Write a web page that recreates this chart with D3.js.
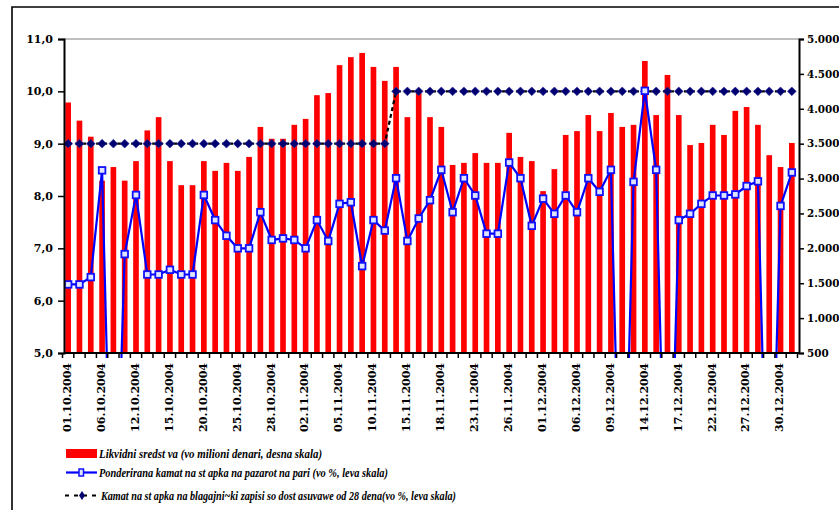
<!DOCTYPE html>
<html>
<head>
<meta charset="utf-8">
<script src="https://cdn.jsdelivr.net/npm/d3@7"></script>
<style>
  html, body { margin: 0; padding: 0; background: #fff; }
  svg { display: block; }
  .tick-label { font-family: "DejaVu Serif", serif; font-weight: bold; font-size: 11px; fill: #000; }
  .right-label { font-size: 10.4px; }
  .legend-text { font-family: "Liberation Serif", serif; font-weight: bold; font-style: italic; font-size: 13px; fill: #000; }
</style>
</head>
<body>
<div id="chart"></div>
<script>
// working days, Oct - Dec 2004
var dates = [
  "01.10.2004", "04.10.2004", "05.10.2004", "06.10.2004", "07.10.2004", "08.10.2004", "12.10.2004",
  "13.10.2004", "14.10.2004", "15.10.2004", "18.10.2004", "19.10.2004", "20.10.2004", "21.10.2004",
  "22.10.2004", "25.10.2004", "26.10.2004", "27.10.2004", "28.10.2004", "29.10.2004",
  "01.11.2004", "02.11.2004", "03.11.2004", "04.11.2004", "05.11.2004", "08.11.2004", "09.11.2004",
  "10.11.2004", "11.11.2004", "12.11.2004", "15.11.2004", "16.11.2004", "17.11.2004", "18.11.2004",
  "19.11.2004", "22.11.2004", "23.11.2004", "24.11.2004", "25.11.2004", "26.11.2004", "29.11.2004",
  "30.11.2004",
  "01.12.2004", "02.12.2004", "03.12.2004", "06.12.2004", "07.12.2004", "08.12.2004", "09.12.2004",
  "10.12.2004", "13.12.2004", "14.12.2004", "15.12.2004", "16.12.2004", "17.12.2004", "20.12.2004",
  "21.12.2004", "22.12.2004", "23.12.2004", "24.12.2004", "27.12.2004", "28.12.2004", "29.12.2004",
  "30.12.2004", "31.12.2004"
];

// Likvidni sredstva (mil. denari, right axis)
var liquidity = [
  4090, 3830, 3600, 2970, 3165, 2970, 3250, 3690, 3880, 3250,
  2905, 2905, 3250, 3110, 3225, 3110, 3310, 3740, 3570, 3570,
  3770, 3855, 4195, 4225, 4625, 4740, 4800, 4600, 4400, 4600,
  3880, 4225, 3880, 3740, 3195, 3225, 3365, 3225, 3225, 3655,
  3310, 3250, 2820, 3135, 3625, 3680, 3910, 3680, 3940, 3740,
  3770, 4685, 3910, 4485, 3910, 3480, 3510, 3770, 3625, 3970,
  4025, 3770, 3335, 3165, 3510
];

// Ponderirana kamatna stapka na pazarot na pari (%, left axis)
var moneyRate = [
  6.31, 6.31, 6.45, 8.49, 0, 6.89, 8.02, 6.50, 6.50, 6.59,
  6.50, 6.50, 8.02, 7.54, 7.24, 7.00, 7.00, 7.69, 7.16, 7.19,
  7.16, 7.00, 7.54, 7.14, 7.85, 7.88, 6.66, 7.54, 7.34, 8.34,
  7.14, 7.57, 7.92, 8.50, 7.69, 8.34, 8.01, 7.28, 7.28, 8.64,
  8.34, 7.43, 7.95, 7.66, 8.01, 7.69, 8.34, 8.08, 8.50, 0,
  8.27, 10.01, 8.50, 0, 7.54, 7.66, 7.85, 8.01, 8.01, 8.03,
  8.19, 8.28, 0, 7.81, 8.45
];

// Kamatna stapka na blagajnicki zapisi, 28 dena (%, left axis)
var billRate = [
  9.0, 9.0, 9.0, 9.0, 9.0, 9.0, 9.0, 9.0, 9.0, 9.0,
  9.0, 9.0, 9.0, 9.0, 9.0, 9.0, 9.0, 9.0, 9.0, 9.0,
  9.0, 9.0, 9.0, 9.0, 9.0, 9.0, 9.0, 9.0, 9.0, 10.0,
  10.0, 10.0, 10.0, 10.0, 10.0, 10.0, 10.0, 10.0, 10.0, 10.0,
  10.0, 10.0, 10.0, 10.0, 10.0, 10.0, 10.0, 10.0, 10.0, 10.0,
  10.0, 10.0, 10.0, 10.0, 10.0, 10.0, 10.0, 10.0, 10.0, 10.0,
  10.0, 10.0, 10.0, 10.0, 10.0
];

var leftTicks = [5, 6, 7, 8, 9, 10, 11];
var rightTicks = [500, 1000, 1500, 2000, 2500, 3000, 3500, 4000, 4500, 5000];

var legendLabels = [
  "Likvidni sredst va (vo milioni denari, desna skala)",
  "Ponderirana kamat na st apka na pazarot  na pari (vo %, leva skala)",
  "Kamat na st apka na blagajni~ki zapisi so dost asuvawe od 28 dena(vo %, leva skala)"
];

var width = 839, height = 510;
var plotLeft = 64, plotRight = 799, plotTop = 39, plotBottom = 353;

var svg = d3.select("#chart")
            .append("svg")
              .attr("width", width)
              .attr("height", height);

// outer frame (runs off the right and bottom edge)
svg.append("path")
   .attr("d", "M12," + height + "V7H" + width)
   .attr("fill", "none")
   .attr("stroke", "#000")
   .attr("stroke-width", 1.6);

var x = d3.scaleBand()
          .domain(dates)
          .range([plotLeft - 1.5, plotRight - 1.5])
          .paddingInner(0.5)
          .paddingOuter(0.25);

var step = x.step();

var yLeft = d3.scaleLinear().domain([5, 11]).range([plotBottom, plotTop]);
var yRight = d3.scaleLinear().domain([500, 5000]).range([plotBottom, plotTop]);

// plot top border
svg.append("line")
   .attr("x1", plotLeft).attr("x2", plotRight)
   .attr("y1", plotTop).attr("y2", plotTop)
   .attr("stroke", "#808080")
   .attr("stroke-width", 1.2);

// bars
svg.selectAll(".bar")
   .data(liquidity)
   .enter()
   .append("rect")
     .attr("class", "bar")
     .attr("x", function(d, i) { return x(dates[i]); })
     .attr("width", x.bandwidth())
     .attr("y", function(d) { return yRight(d); })
     .attr("height", function(d) { return plotBottom - yRight(d); })
     .attr("fill", "#ff0000");

var cx = function(i) { return x(dates[i]) + x.bandwidth() / 2; };

svg.append("clipPath")
   .attr("id", "plot-clip")
   .append("rect")
     .attr("x", plotLeft)
     .attr("y", plotTop - 6)
     .attr("width", plotRight - plotLeft)
     .attr("height", plotBottom - plotTop + 11);

var lines = svg.append("g").attr("clip-path", "url(#plot-clip)");

// black dashed line with diamonds
var billLine = d3.line()
                 .x(function(d, i) { return cx(i); })
                 .y(function(d) { return yLeft(d); });

lines.append("path")
     .attr("d", billLine(billRate))
     .attr("fill", "none")
     .attr("stroke", "#000")
     .attr("stroke-width", 2.2)
     .attr("stroke-dasharray", "4,3");

var diamond = function(r) {
  return "M0," + (-r) + "L" + r + ",0L0," + r + "L" + (-r) + ",0Z";
};

lines.selectAll(".diamond")
     .data(billRate)
     .enter()
     .append("path")
       .attr("class", "diamond")
       .attr("d", diamond(4.4))
       .attr("transform", function(d, i) { return "translate(" + cx(i) + "," + yLeft(d) + ")"; })
       .attr("fill", "#000070")
       .attr("stroke", "#3030a0")
       .attr("stroke-width", 0.6);

// blue line with squares
var rateLine = d3.line()
                 .x(function(d, i) { return cx(i); })
                 .y(function(d) { return yLeft(d); });

lines.append("path")
     .attr("d", rateLine(moneyRate))
     .attr("fill", "none")
     .attr("stroke", "#0000ff")
     .attr("stroke-width", 2.2);

var ratePoints = moneyRate.map(function(d, i) { return [d, i]; })
                          .filter(function(p) { return p[0] > 5; });

lines.selectAll(".square")
     .data(ratePoints)
     .enter()
     .append("rect")
       .attr("class", "square")
       .attr("x", function(p) { return cx(p[1]) - 3.3; })
       .attr("y", function(p) { return yLeft(p[0]) - 3.3; })
       .attr("width", 6.6)
       .attr("height", 6.6)
       .attr("fill", "#dfe4ff")
       .attr("stroke", "#1010ff")
       .attr("stroke-width", 1.8);

// left axis
var leftAxis = d3.axisLeft(yLeft)
                 .tickValues(leftTicks)
                 .tickSize(6)
                 .tickPadding(5)
                 .tickFormat(function(d) { return d3.format(".1f")(d).replace(".", ","); });

var gl = svg.append("g")
            .attr("transform", "translate(" + plotLeft + ",0)")
            .call(leftAxis);

// right axis
var rightAxis = d3.axisRight(yRight)
                  .tickValues(rightTicks)
                  .tickSize(5)
                  .tickPadding(3)
                  .tickFormat(function(d) { return d3.format(",")(d).replace(/,/g, "."); });

var gr = svg.append("g")
            .attr("transform", "translate(" + plotRight + ",0)")
            .call(rightAxis);

// bottom axis with ticks between categories
var gb = svg.append("g");

gb.append("line")
  .attr("x1", plotLeft).attr("x2", plotRight)
  .attr("y1", plotBottom).attr("y2", plotBottom)
  .attr("stroke", "#000")
  .attr("stroke-width", 2);

gb.selectAll(".xtick")
  .data(dates.concat(["end"]))
  .enter()
  .append("line")
    .attr("class", "xtick")
    .attr("x1", function(d, i) { return cx(0) - step / 2 + i * step; })
    .attr("x2", function(d, i) { return cx(0) - step / 2 + i * step; })
    .attr("y1", plotBottom)
    .attr("y2", plotBottom + 5)
    .attr("stroke", "#000")
    .attr("stroke-width", 1.5);

gb.selectAll(".xlabel")
  .data(dates.filter(function(d, i) { return i % 3 === 0; }))
  .enter()
  .append("text")
    .attr("class", "tick-label")
    .attr("transform", function(d) {
      return "translate(" + (x(d) + x.bandwidth() / 2 - 1) + "," + (plotBottom + 10) + ") rotate(-90)";
    })
    .attr("text-anchor", "end")
    .attr("dy", "0.35em")
    .text(function(d) { return d; });

[gl, gr].forEach(function(g) {
  g.select(".domain").attr("stroke", "#000").attr("stroke-width", 2);
  g.selectAll(".tick line").attr("stroke", "#000").attr("stroke-width", 1.5);
  g.selectAll(".tick text")
   .attr("class", "tick-label")
   .attr("font-family", null)
   .attr("font-size", null);
});
gr.selectAll(".tick text").classed("right-label", true);

// legend
var legend = svg.append("g");
var legendY = [453.5, 472.5, 495.5];
var legendLen = [223, 289, 355];
var legendX = [99, 99, 101];

legend.append("rect")
      .attr("x", 66).attr("y", 449)
      .attr("width", 31).attr("height", 9)
      .attr("fill", "#ff0000");

legend.append("line")
      .attr("x1", 66).attr("x2", 97)
      .attr("y1", legendY[1]).attr("y2", legendY[1])
      .attr("stroke", "#0000ff")
      .attr("stroke-width", 2.2);

legend.append("rect")
      .attr("x", 79).attr("y", legendY[1] - 3.5)
      .attr("width", 4.5).attr("height", 7)
      .attr("fill", "#dfe4ff")
      .attr("stroke", "#1010ff")
      .attr("stroke-width", 1.5);

legend.append("line")
      .attr("x1", 65).attr("x2", 98)
      .attr("y1", legendY[2]).attr("y2", legendY[2])
      .attr("stroke", "#000")
      .attr("stroke-width", 2.2)
      .attr("stroke-dasharray", "4,5");

legend.append("path")
      .attr("d", "M0,-4.5L3,0L0,4.5L-3,0Z")
      .attr("transform", "translate(82," + legendY[2] + ")")
      .attr("fill", "#000070");

legend.selectAll(".legend-text")
      .data(legendLabels)
      .enter()
      .append("text")
        .attr("class", "legend-text")
        .attr("x", function(d, i) { return legendX[i]; })
        .attr("y", function(d, i) { return legendY[i] + 4; })
        .attr("textLength", function(d, i) { return legendLen[i]; })
        .attr("lengthAdjust", "spacingAndGlyphs")
        .text(function(d) { return d; });
</script>
</body>
</html>
